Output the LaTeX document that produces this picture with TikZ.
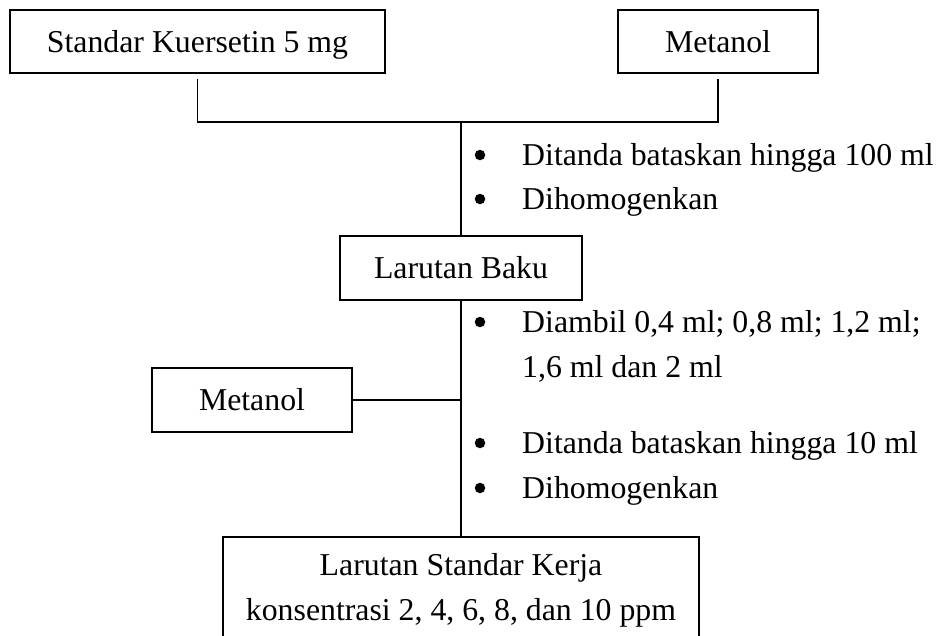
\documentclass[tikz,border=0pt]{standalone}
\usepackage{fontspec}
\setmainfont{Liberation Serif}
\begin{document}
\begin{tikzpicture}[x=1pt,y=-1pt, font=\fontsize{31.8}{45}\selectfont,
  box/.style={draw, line width=1.5pt, inner sep=0pt, text height=21pt, text depth=0pt},
  conn/.style={line width=1.5pt},
  txt/.style={inner sep=0pt, anchor=base west},
  ctxt/.style={inner sep=0pt, anchor=base},
  bul/.style={fill, circle, inner sep=0pt, minimum size=10.5pt}]
\useasboundingbox (0,0) rectangle (942,635);
\clip (0,0) rectangle (942,635);
% boxes
\node[box, minimum width=375pt, minimum height=63pt] (k) at (197.5,41.5) {Standar Kuersetin 5 mg};
\node[box, minimum width=200pt, minimum height=63pt] (m1) at (718,41.5) {Metanol};
\node[box, minimum width=242pt, minimum height=64pt] (baku) at (461,268) {Larutan Baku};
\node[box, minimum width=200pt, minimum height=64pt] (m2) at (252,400) {Metanol};
\node[draw, line width=1.5pt, minimum width=476pt, minimum height=130pt, anchor=north] (final) at (461,536) {};
\node[ctxt] (f1) at (461,575) {Larutan Standar Kerja};
\node[ctxt] (f2) at (461,620) {konsentrasi 2, 4, 6, 8, dan 10 ppm};
% connectors
\coordinate (j) at (461,122);
\draw[conn] ([yshift=-5pt]k.south) |- (j) -| ([yshift=-5pt]m1.south);
\draw[conn] (j) -- (baku.north);
\draw[conn] (baku.south) -- (final.north);
\draw[conn] (m2.east) -- (m2.east -| baku.south);
% bullet texts
\node[bul] (b1) at (480,155) {};
\node[txt] (t1) at (522,165) {Ditanda bataskan hingga 100 ml};
\node[bul] (b2) at (480,199) {};
\node[txt] (t2) at (522,209) {Dihomogenkan};
\node[bul] (b3) at (480,322) {};
\node[txt] (t3) at (522,332) {Diambil 0,4 ml; 0,8 ml; 1,2 ml;};
\node[txt] (t3b) at (522,377) {1,6 ml dan 2 ml};
\node[bul] (b4) at (480,443) {};
\node[txt] (t4) at (522,453) {Ditanda bataskan hingga 10 ml};
\node[bul] (b5) at (480,488) {};
\node[txt] (t5) at (522,498) {Dihomogenkan};
\end{tikzpicture}
\end{document}
